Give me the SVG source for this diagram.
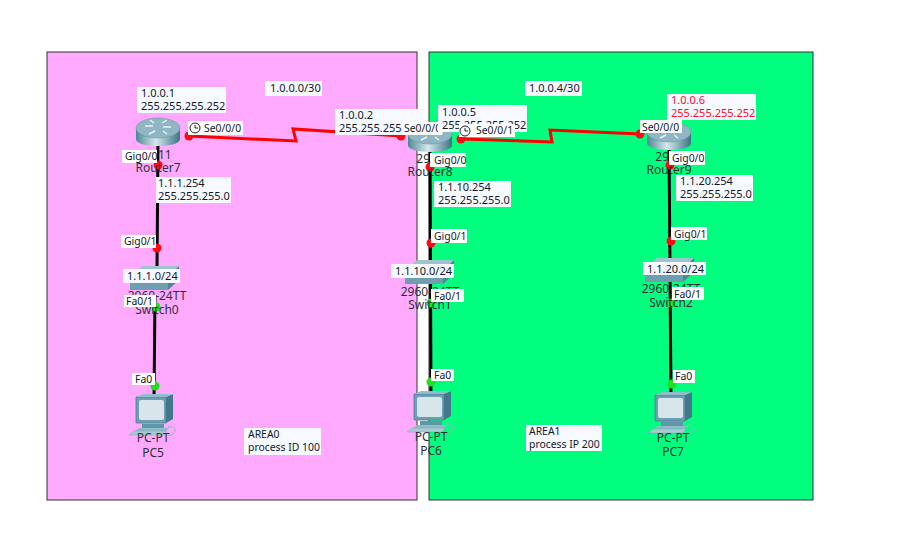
<svg xmlns="http://www.w3.org/2000/svg" width="922" height="544" viewBox="0 0 922 544">
<style>
text{font-family:"Noto Sans","DejaVu Sans",sans-serif;font-size:11px;fill:#10182a}
.nm{text-anchor:middle;font-size:12px;fill:#30303a}
.pt{font-size:10.4px}
.lb{fill:#f6f9ff}
.wb{fill:#ffffff}
.red{fill:#ff0a2a}
.ser{fill:none;stroke:#ff0000;stroke-width:3}
.eth{fill:none;stroke:#000;stroke-width:3}
.area{stroke:#333;stroke-width:1}
</style>
<defs>
<linearGradient id="rg" x1="0" x2="1" y1="0" y2="0"><stop offset="0" stop-color="#4d8793"/><stop offset=".45" stop-color="#d5e8ed"/><stop offset="1" stop-color="#3a7483"/></linearGradient>
<g id="router">
<path d="M-22 -4V7C-22 12-10 14 0 14S22 12 22 7V-4Z" fill="url(#rg)"/>
<ellipse cx="0" cy="-4" rx="22" ry="10" fill="#8fb6c2" stroke="#6c9aa6" stroke-width=".6"/>
<path d="M-13 -6H-5M-4 -9L-8 -12M4 -9L9 -12M5 -5H13M-3 -1L-9 2M5 -1L9 2" stroke="#e8f4f6" stroke-width="1.4" fill="none"/>
</g>
<g id="switch">
<path d="M-24 -2H14V11H-24Z" fill="#6d9fae"/>
<path d="M-24 -2L-12 -13H25L14 -2Z" fill="#9fc4cd"/>
<path d="M14 -2L25 -13V1L14 11Z" fill="#4e8696"/>
</g>
<g id="pc">
<path d="M-16 -18H14V8H-16Z" fill="#6c9fb2" stroke="#4d7f92" stroke-width=".8"/>
<path d="M14 -18L21 -21V4L14 8Z" fill="#41788c"/>
<path d="M-16 -18L-9 -21H21L14 -18Z" fill="#90bccb"/>
<rect x="-13" y="-15" width="25" height="20" rx="2" fill="#d8e6ec"/>
<path d="M-10 9H12V13H-10Z" fill="#5f96a8"/>
<path d="M-18 17L-13 13H17L13 17Z" fill="#8fbcc9"/>
<path d="M-23 20L-18 16H15L12 20Z" fill="#a8cbd4" stroke="#6c9aa6" stroke-width=".4"/>
<path d="M16 12Q24 11 23 16L20 20H16" fill="none" stroke="#8fb5c0"/>
</g>
</defs>
<rect width="922" height="544" fill="#fff"/>
<rect class="area" x="47" y="52" width="370" height="448" fill="#ffaaff"/>
<rect class="area" x="429" y="52" width="384" height="448" fill="#00ff7f"/>
<g id="connectors">
<path class="ser" d="M189 136L296 141L293 129L401 136"/>
<path class="ser" d="M461 139L552 142L550 130L640 134"/>
<path class="eth" d="M158 140L157 270M155 295L154 400"/>
<path class="eth" d="M430 145L431 398"/>
<path class="eth" d="M669 145L671 398"/>
<g fill="#ff0a14">
<circle cx="189" cy="136" r="4.5"/><circle cx="158" cy="165" r="4.5"/><circle cx="157" cy="248" r="4.5"/>
<circle cx="401" cy="136" r="4.5"/><circle cx="461" cy="139" r="4.5"/><circle cx="430" cy="167" r="4.5"/><circle cx="431" cy="243" r="4.5"/>
<circle cx="640" cy="134" r="4.5"/><circle cx="670" cy="165" r="4.5"/><circle cx="671" cy="241" r="4.5"/>
</g>
<g fill="#1fe01f">
<circle cx="156" cy="307" r="4.5"/><circle cx="155" cy="386" r="4.5"/>
<circle cx="431" cy="303" r="4.5"/><circle cx="431" cy="382" r="4.5"/>
<circle cx="671" cy="303" r="4.5"/><circle cx="672" cy="384" r="4.5"/>
</g>
</g>
<g id="Router7"><use href="#router" x="158" y="132"/><text class="nm" x="158" y="159">2911</text><text class="nm" x="158" y="172">Router7</text></g>
<g id="Router8"><use href="#router" x="430" y="138"/><text class="nm" x="430" y="163">2911</text><text class="nm" x="430" y="176">Router8</text></g>
<g id="Router9"><use href="#router" x="669" y="136"/><text class="nm" x="669" y="161">2911</text><text class="nm" x="669" y="174">Router9</text></g>
<g id="Switch0"><use href="#switch" x="154" y="279"/><text class="nm" x="157" y="300">2960-24TT</text><text class="nm" x="157" y="314">Switch0</text></g>
<g id="Switch1"><use href="#switch" x="429" y="273"/><text class="nm" x="430" y="296">2960-24TT</text><text class="nm" x="430" y="309">Switch1</text></g>
<g id="Switch2"><use href="#switch" x="669" y="271"/><text class="nm" x="671" y="293">2960-24TT</text><text class="nm" x="671" y="307">Switch2</text></g>
<g id="PC5"><use href="#pc" x="152" y="415"/><text class="nm" x="153" y="442">PC-PT</text><text class="nm" x="153" y="457">PC5</text></g>
<g id="PC6"><use href="#pc" x="430" y="412"/><text class="nm" x="431" y="441">PC-PT</text><text class="nm" x="431" y="455">PC6</text></g>
<g id="PC7"><use href="#pc" x="671" y="413"/><text class="nm" x="673" y="442">PC-PT</text><text class="nm" x="673" y="456">PC7</text></g>
<g id="labels">
<rect class="lb" x="137" y="87" width="89" height="26"/><text x="141" y="97">1.0.0.1</text><text x="141" y="110">255.255.255.252</text>
<rect class="lb" x="265" y="81" width="57" height="15"/><text x="270" y="92">1.0.0.0/30</text>
<rect class="wb" x="188" y="121" width="55" height="14"/><text class="pt" x="204" y="132">Se0/0/0</text>
<g fill="none" stroke="#222"><circle cx="195" cy="128" r="5"/><path d="M195 125V128H198"/></g>
<rect class="wb" x="122" y="150" width="35" height="13"/><text class="pt" x="125" y="160">Gig0/0</text>
<rect class="lb" x="156" y="177" width="75" height="26"/><text x="158" y="187">1.1.1.254</text><text x="158" y="200">255.255.255.0</text>
<rect class="wb" x="121" y="235" width="35" height="13"/><text class="pt" x="124" y="245">Gig0/1</text>
<rect class="lb" x="123" y="269" width="57" height="14"/><text x="127" y="280">1.1.1.0/24</text>
<rect class="wb" x="124" y="295" width="32" height="12"/><text class="pt" x="126" y="305">Fa0/1</text>
<rect class="wb" x="132" y="373" width="23" height="12"/><text class="pt" x="135" y="383">Fa0</text>
<rect class="lb" x="244" y="428" width="77" height="27"/><text class="pt" x="248" y="438">AREA0</text><text class="pt" x="248" y="451">process ID 100</text>
<rect class="lb" x="335" y="109" width="88" height="26"/><text x="339" y="119">1.0.0.2</text><text x="339" y="132">255.255.255</text>
<rect class="wb" x="403" y="122" width="39" height="13"/><text class="pt" x="404" y="132">Se0/0/0</text>
<rect class="lb" x="438" y="105" width="89" height="27"/><text x="442" y="116">1.0.0.5</text><text x="442" y="129">255.255.255.252</text>
<rect class="wb" x="459" y="124" width="56" height="13"/><text class="pt" x="476" y="134">Se0/0/1</text>
<g fill="none" stroke="#222"><circle cx="465" cy="131" r="5"/><path d="M465 128V131H468"/></g>
<rect class="wb" x="430" y="153" width="36" height="14"/><text class="pt" x="434" y="164">Gig0/0</text>
<rect class="lb" x="434" y="181" width="77" height="26"/><text x="438" y="191">1.1.10.254</text><text x="438" y="204">255.255.255.0</text>
<rect class="wb" x="431" y="229" width="36" height="14"/><text class="pt" x="434" y="240">Gig0/1</text>
<rect class="lb" x="391" y="264" width="63" height="14"/><text x="395" y="275">1.1.10.0/24</text>
<rect class="wb" x="431" y="289" width="33" height="13"/><text class="pt" x="434" y="300">Fa0/1</text>
<rect class="wb" x="431" y="369" width="23" height="12"/><text class="pt" x="434" y="379">Fa0</text>
<rect class="lb" x="526" y="425" width="76" height="26"/><text class="pt" x="529" y="435">AREA1</text><text class="pt" x="529" y="448">process IP 200</text>
<rect class="lb" x="525" y="81" width="57" height="15"/><text x="529" y="92">1.0.0.4/30</text>
<rect class="lb" x="667" y="94" width="89" height="26"/><text class="red" x="671" y="104">1.0.0.6</text><text class="red" x="671" y="117">255.255.255.252</text>
<rect class="wb" x="640" y="120" width="42" height="13"/><text class="pt" x="642" y="131">Se0/0/0</text>
<rect class="wb" x="669" y="151" width="36" height="14"/><text class="pt" x="672" y="162">Gig0/0</text>
<rect class="lb" x="676" y="175" width="77" height="26"/><text x="680" y="185">1.1.20.254</text><text x="680" y="198">255.255.255.0</text>
<rect class="wb" x="671" y="227" width="36" height="13"/><text class="pt" x="674" y="238">Gig0/1</text>
<rect class="lb" x="643" y="262" width="63" height="13"/><text x="647" y="273">1.1.20.0/24</text>
<rect class="wb" x="672" y="287" width="32" height="13"/><text class="pt" x="674" y="298">Fa0/1</text>
<rect class="wb" x="673" y="370" width="22" height="13"/><text class="pt" x="675" y="380">Fa0</text>
</g>
</svg>
